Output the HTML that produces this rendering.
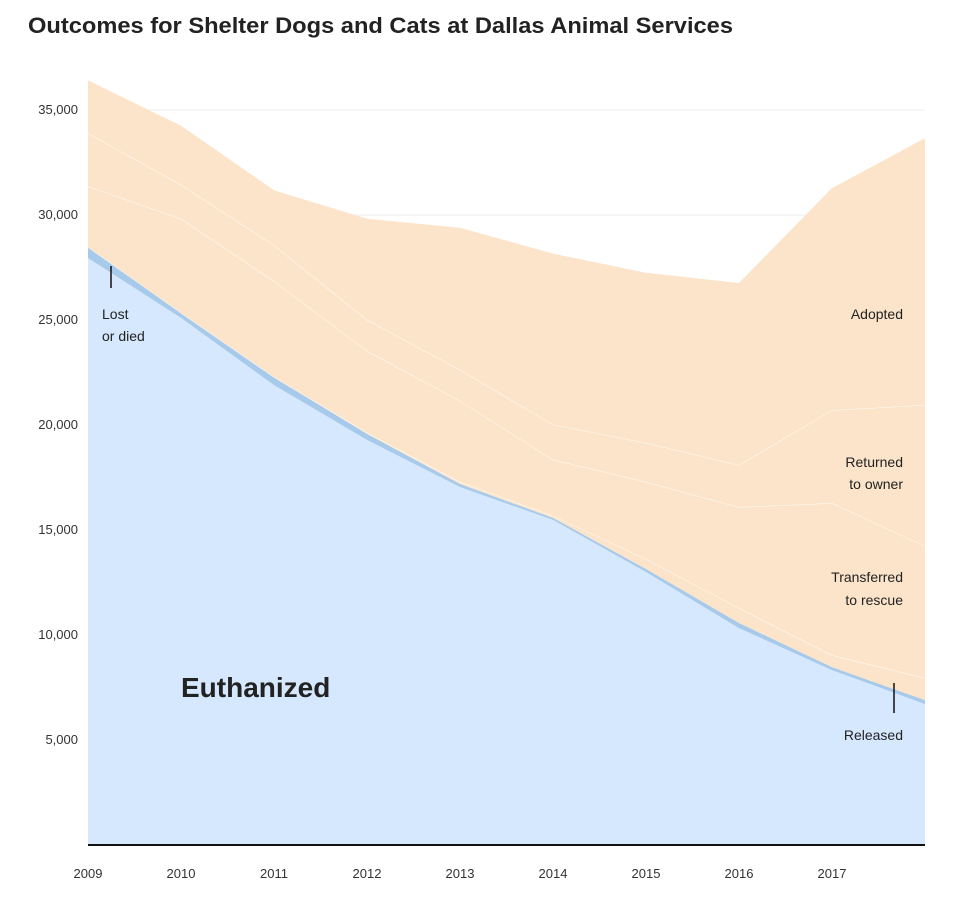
<!DOCTYPE html>
<html><head><meta charset="utf-8"><style>
body{margin:0;background:#fff;font-family:"Liberation Sans",sans-serif;}
svg text{font-family:"Liberation Sans",sans-serif;}
</style></head><body>
<svg id="chart" width="973" height="901">
<text x="28" y="33" font-size="22" font-weight="bold" fill="#222" textLength="705" lengthAdjust="spacingAndGlyphs">Outcomes for Shelter Dogs and Cats at Dallas Animal Services</text>
<g id="grid"></g><g id="areas"></g><g id="labels"></g>
</svg>
<script>
const years=[2009,2010,2011,2012,2013,2014,2015,2016,2017,2018];
const euthanized=[27950,25100,21900,19290,17050,15480,13000,10330,8330,6710];
const lostDied=[520,240,380,290,140,100,140,240,140,190];
const released=[0,0,0,50,100,100,480,710,570,1050];
const transferred=[2900,4480,4570,3900,3860,2670,3670,4810,7240,6290];
const returned=[2520,1620,1710,1480,1480,1670,1860,2000,4430,6710];
const adopted=[2520,2810,2620,4810,6760,8140,8100,8670,10570,12710];
const yTicks=[5000,10000,15000,20000,25000,30000,35000];
const xTickLabels=["2009","2010","2011","2012","2013","2014","2015","2016","2017"];
const NS="http://www.w3.org/2000/svg";
const x=i=>88+i*(925-88)/9;
const y=v=>845-v*0.021;
const grid=document.getElementById('grid'),areas=document.getElementById('areas'),labels=document.getElementById('labels');
function mk(tag,attrs,parent){const e=document.createElementNS(NS,tag);for(const k in attrs)e.setAttribute(k,attrs[k]);parent.appendChild(e);return e;}
yTicks.forEach(t=>{
 const l=mk('line',{x1:88,x2:925,y1:y(t),y2:y(t),stroke:'#eee','stroke-width':1},grid);
 
 
 const tx=mk('text',{x:78,y:y(t)+4,'text-anchor':'end','font-size':13,fill:'#333'},grid);
 tx.textContent=t.toLocaleString('en-US');
 
 
});
const series=[[euthanized,'#d5e8fd','euthanized-area'],[lostDied,'#a7c9ea','lost-died-area'],[released,'#fbe4c9','released-area'],[transferred,'#fbe4c9','transferred-area'],[returned,'#fbe4c9','returned-area'],[adopted,'#fbe4c9','adopted-area']];
let base=years.map(()=>0);
series.forEach(([vals,col,name],si)=>{
 const top=base.map((b,i)=>b+vals[i]);
 let d='M'+years.map((_,i)=>x(i)+','+y(top[i])).join(' L');
 d+=' L'+years.map((_,i)=>x(9-i)+','+y(base[9-i])).join(' L')+' Z';
 const p=mk('path',{d:d,fill:col},areas);
 
 
 if(si>=2){
  const ln=mk('polyline',{points:years.map((_,i)=>x(i)+','+y(top[i])).join(' '),fill:'none',stroke:'#fff','stroke-width':1,opacity:si==5?0:0.9},areas);
  
  
 }
 base=top;
});
const ax=mk('line',{x1:88,x2:925,y1:845,y2:845,stroke:'#111','stroke-width':2},grid.parentNode);


xTickLabels.forEach((t,i)=>{
 const tx=mk('text',{x:x(i),y:878,'text-anchor':'middle','font-size':13,fill:'#333'},labels);
 tx.textContent=t;
 
 
});
function lab(txt,xx,yy,anchor,size,weight,name){const t=mk('text',{x:xx,y:yy,'text-anchor':anchor,'font-size':size,'font-weight':weight,fill:'#222'},labels);t.textContent=txt;}
lab('Lost',102,319,'start',14,'normal','lost-died-label');
lab('or died',102,341,'start',14,'normal','lost-died-label-2');
lab('Adopted',903,319,'end',14,'normal','adopted-label');
lab('Returned',903,467,'end',14,'normal','returned-label');
lab('to owner',903,489,'end',14,'normal','returned-label-2');
lab('Transferred',903,582,'end',14,'normal','transferred-label');
lab('to rescue',903,605,'end',14,'normal','transferred-label-2');
lab('Released',903,740,'end',14,'normal','released-label');
lab('Euthanized',181,697,'start',28,'bold','euthanized-label');
const t1=mk('line',{x1:111,x2:111,y1:266,y2:288,stroke:'#111','stroke-width':1.5},labels);


const t2=mk('line',{x1:894,x2:894,y1:683,y2:713,stroke:'#111','stroke-width':1.5},labels);


</script>
</body></html>
